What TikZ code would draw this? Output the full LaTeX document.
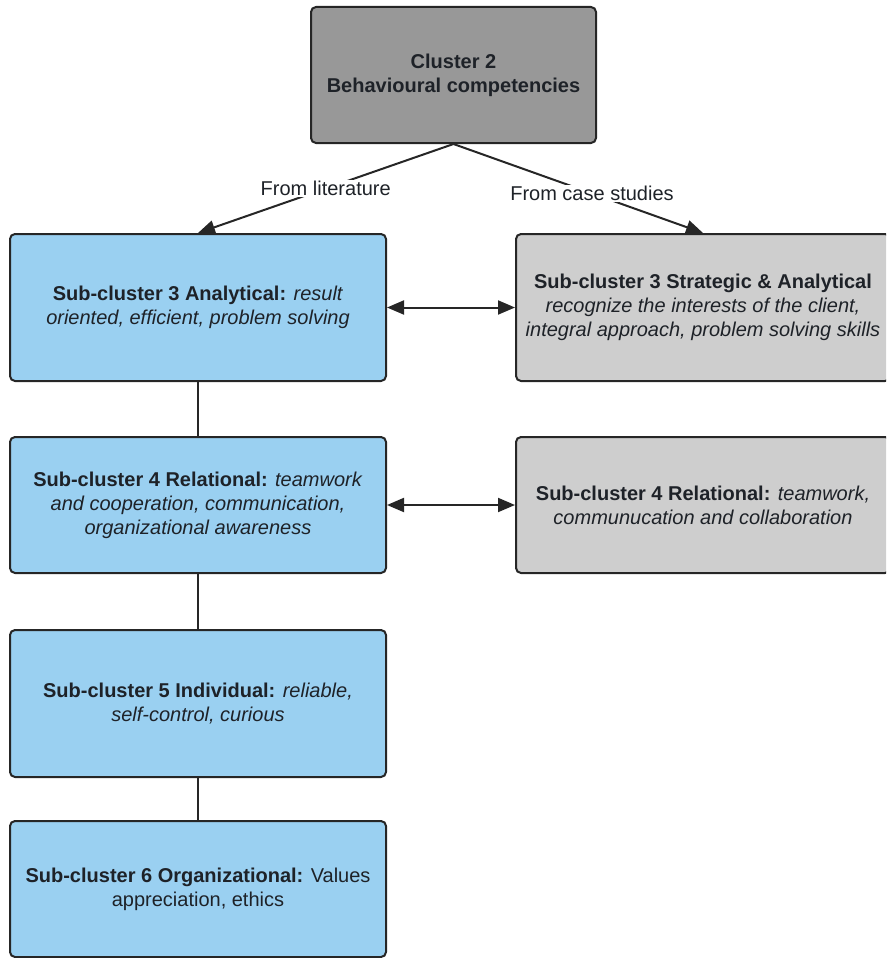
\documentclass[tikz,border=0pt]{standalone}
\usepackage{fontspec}
\setmainfont{Liberation Sans}
\usetikzlibrary{arrows.meta}
\definecolor{boxblue}{RGB}{154,208,241}
\definecolor{boxgray}{RGB}{206,206,206}
\definecolor{topgray}{RGB}{152,152,152}
\definecolor{edgecol}{RGB}{38,38,38}
\definecolor{inkcol}{RGB}{30,34,40}
\begin{document}
\begin{tikzpicture}[x=1pt,y=-1pt,
  box/.style={draw=edgecol, line width=2pt, rounded corners=5pt, align=center,
    font=\fontsize{20}{24}\selectfont, text=inkcol, inner sep=0pt},
  litbox/.style={box, fill=boxblue, minimum width=376pt},
  casebox/.style={box, fill=boxgray, minimum width=374pt},
  tall/.style={minimum height=147pt},
  short/.style={minimum height=136pt},
  link/.style={draw=edgecol, line width=2pt},
  tip/.style={-{Triangle[length=17pt,width=14pt]}},
  bothtips/.style={{Triangle[length=17pt,width=14pt]}-{Triangle[length=17pt,width=14pt]}},
  lbl/.style={fill=white, text=inkcol, font=\fontsize{20}{24}\selectfont, inner sep=1pt}]
\useasboundingbox (0,0) rectangle (886,958);
\clip (0,0) rectangle (886,958);

% top cluster
\node[box, fill=topgray, minimum width=285pt, short] (cluster) at (453.5,75)
  {\textbf{Cluster 2}\\\textbf{Behavioural competencies}};

% sub-clusters from literature
\node[litbox, tall] (lit3) at (198,307.5)
  {\textbf{Sub-cluster 3 Analytical:} \textit{result}\\\textit{oriented, efficient, problem solving}};
\node[litbox, short] (lit4) at (198,505)
  {\textbf{Sub-cluster 4 Relational:} \textit{teamwork}\\\textit{and cooperation, communication,}\\\textit{organizational awareness}};
\node[litbox, tall] (lit5) at (198,703.5)
  {\textbf{Sub-cluster 5 Individual:} \textit{reliable,}\\\textit{self-control, curious}};
\node[litbox, short] (lit6) at (198,889)
  {\textbf{Sub-cluster 6 Organizational:} Values\\appreciation, ethics};

% sub-clusters from case studies
\node[casebox, tall] (case3) at (703,307.5)
  {\textbf{Sub-cluster 3 Strategic \& Analytical}\\\textit{recognize the interests of the client,}\\\textit{integral approach, problem solving skills}};
\node[casebox, short] (case4) at (703,505)
  {\textbf{Sub-cluster 4 Relational:} \textit{teamwork,}\\\textit{communucation and collaboration}};

% connectors
\draw[link, tip] (cluster.south) -- node[lbl, pos=0.5] {From literature} (lit3.north);
\draw[link, tip] (cluster.south) -- node[lbl, pos=0.555] {From case studies} (case3.north);
\draw[link, bothtips] (lit3.east) -- (case3.west);
\draw[link, bothtips] (lit4.east) -- (case4.west);
\draw[link] (lit3.south) -- (lit4.north);
\draw[link] (lit4.south) -- (lit5.north);
\draw[link] (lit5.south) -- (lit6.north);
\end{tikzpicture}
\end{document}
